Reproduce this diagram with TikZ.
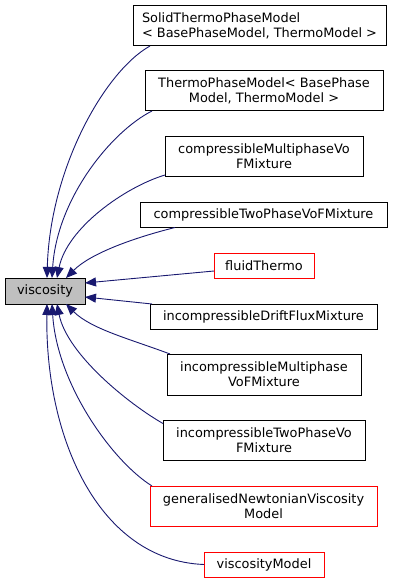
\documentclass[tikz,border=0pt]{standalone}
\usepackage{fontspec}
\setmainfont{DejaVu Sans}
\usetikzlibrary{arrows.meta}
\definecolor{edgeblue}{HTML}{191970}
\definecolor{nodered}{HTML}{FF0000}
\begin{document}
\begin{tikzpicture}[x=1pt,y=-1pt,
  box/.style={draw=black,line width=1pt,inner sep=0pt,outer sep=0pt,align=center,
    font=\fontsize{12.9}{15}\selectfont},
  redbox/.style={box,draw=nodered},
  rootbox/.style={box,fill=black!25},
  edge/.style={draw=edgeblue,line width=0.9pt,-{Triangle[length=11pt,width=9pt]}}]
\useasboundingbox (0,0) rectangle (400,583);
\node[box,minimum width=253pt,minimum height=40pt,align=left] (solid) at (259.5,26)
  {SolidThermoPhaseModel\\< BasePhaseModel, ThermoModel >};
\node[box,minimum width=238pt,minimum height=40pt] (thermo) at (264,91)
  {ThermoPhaseModel< BasePhase\\Model, ThermoModel >};
\node[box,minimum width=198pt,minimum height=40pt] (cmulti) at (264,156)
  {compressibleMultiphaseVo\\FMixture};
\node[box,minimum width=247pt,minimum height=25pt] (ctwo) at (263.5,215)
  {compressibleTwoPhaseVoFMixture};
\node[redbox,minimum width=100pt,minimum height=25pt] (fluid) at (264,265.5)
  {fluidThermo};
\node[rootbox,minimum width=80pt,minimum height=26pt] (visc) at (45,291)
  {viscosity};
\node[box,minimum width=227pt,minimum height=25pt] (drift) at (263.5,316.5)
  {incompressibleDriftFluxMixture};
\node[box,minimum width=194pt,minimum height=41pt] (imulti) at (264,374.5)
  {incompressibleMultiphase\\VoFMixture};
\node[box,minimum width=202pt,minimum height=40pt] (itwo) at (264,440.5)
  {incompressibleTwoPhaseVo\\FMixture};
\node[redbox,minimum width=227pt,minimum height=40pt] (gen) at (263.5,506)
  {generalisedNewtonianViscosity\\Model};
\node[redbox,minimum width=120pt,minimum height=25pt] (vmodel) at (264,564.5)
  {viscosityModel};
% edges
\draw[edge] ([xshift=17pt]solid.south west) .. controls +(-45,25) and +(3,-110) .. ([xshift=2pt]visc.north);
\draw[edge] ([xshift=7pt]thermo.south west) .. controls +(-40,20) and +(5,-80) .. ([xshift=7pt]visc.north);
\draw[edge] ([yshift=1pt]cmulti.south west) .. controls +(-40,12) and +(10,-50) .. ([xshift=12pt]visc.north);
\draw[edge] ([xshift=35pt]ctwo.south west) .. controls +(-40,10) and +(25,-25) .. ([xshift=21pt]visc.north);
\draw[edge] ([yshift=7pt]fluid.south west) -- ([yshift=8pt]visc.east);
\draw[edge] ([xshift=2pt]drift.north west) -- ([yshift=-6pt]visc.east);
\draw[edge] ([xshift=3pt]imulti.north west) .. controls +(-40,-15) and +(25,25) .. ([xshift=21pt]visc.south);
\draw[edge] ([yshift=-3pt]itwo.north west) .. controls +(-35,-20) and +(10,50) .. ([xshift=12pt]visc.south);
\draw[edge] ([xshift=2pt]gen.north west) .. controls +(-40,-25) and +(5,80) .. ([xshift=7pt]visc.south);
\draw[edge] (vmodel.west) .. controls +(-104,-4) and +(-2,136) .. ([xshift=2pt]visc.south);
\end{tikzpicture}
\end{document}
